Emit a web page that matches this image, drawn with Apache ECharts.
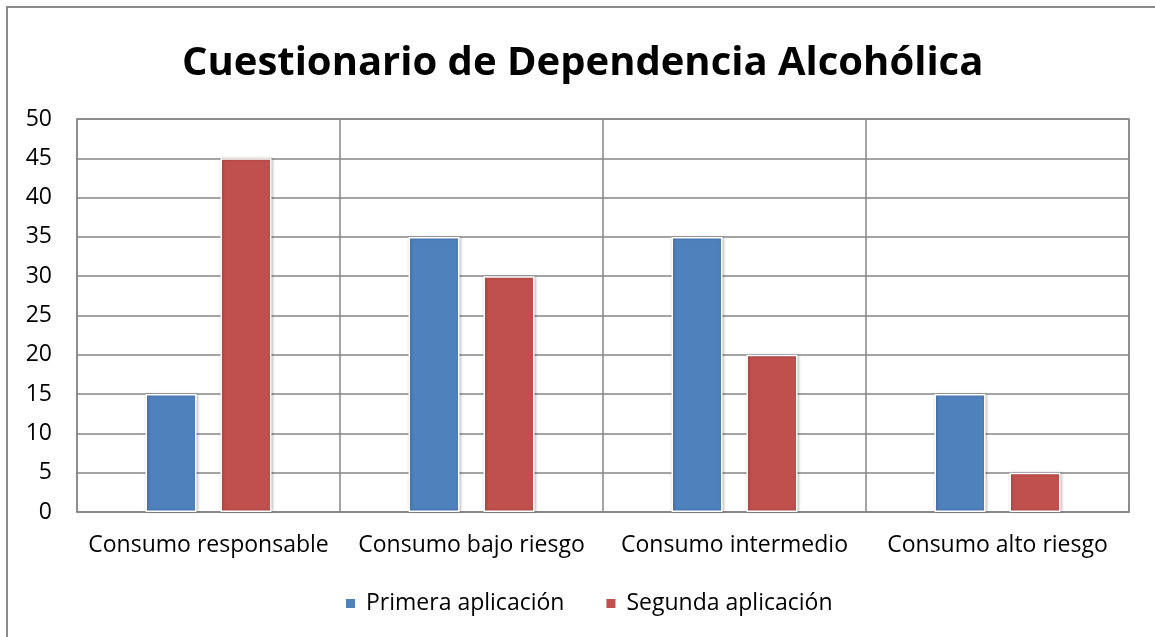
<!DOCTYPE html>
<html>
<head>
<meta charset="utf-8">
<script src="https://cdn.jsdelivr.net/npm/echarts@6/dist/echarts.min.js"></script>
<style>
  html, body { margin: 0; padding: 0; background: #fff; }
  #chart { width: 1155px; height: 637px; }
</style>
</head>
<body>
<div id="chart"></div>
<script>
var categories = ['Consumo responsable', 'Consumo bajo riesgo', 'Consumo intermedio', 'Consumo alto riesgo'];
var primera = [15, 35, 35, 15];
var segunda = [45, 30, 20, 5];
var seriesNames = ['Primera aplicación', 'Segunda aplicación'];

var chart = echarts.init(document.getElementById('chart'));
var fontFam = '"Open Sans", "Noto Sans", sans-serif';

var option = {
    animation: false,
    textStyle: { fontFamily: fontFam },
    title: {
        text: 'Cuestionario de Dependencia Alcohólica',
        left: 177,
        top: 39,
        textStyle: { fontSize: 40, fontWeight: 'bold', color: '#000', fontFamily: fontFam }
    },
    graphic: [{
        type: 'rect',
        shape: { x: 7, y: 7, width: 1160, height: 640 },
        style: { fill: 'none', stroke: '#8a8a8a', lineWidth: 2 },
        silent: true
    }],
    legend: {
        data: seriesNames,
        bottom: 17,
        left: 339,
        itemWidth: 11,
        itemHeight: 11,
        itemGap: 40,
        icon: 'rect',
        textStyle: { fontSize: 23, color: '#000', fontFamily: fontFam, padding: [0, 0, 0, 5] }
    },
    grid: {
        left: 77,
        right: 26,
        top: 119,
        bottom: 125,
        show: true,
        borderColor: '#868686',
        borderWidth: 1.5
    },
    xAxis: {
        type: 'category',
        data: categories,
        axisLine: { lineStyle: { color: '#868686', width: 1.5 } },
        axisTick: { show: false },
        splitLine: { show: true, interval: 0, lineStyle: { color: '#868686', width: 1.5 } },
        axisLabel: { interval: 0, fontSize: 23, color: '#000', margin: 22, fontFamily: fontFam }
    },
    yAxis: {
        type: 'value',
        min: 0,
        max: 50,
        interval: 5,
        axisLine: { show: false },
        axisTick: { show: false },
        splitLine: { lineStyle: { color: '#868686', width: 1.5 } },
        axisLabel: { fontSize: 23, color: '#000', margin: 25, fontFamily: fontFam }
    },
    series: [
        {
            name: seriesNames[0],
            type: 'bar',
            data: primera,
            barWidth: 51,
            barGap: '47%',
            itemStyle: {
                color: '#4F81BD',
                borderColor: '#fff',
                borderWidth: 1.5,
                shadowColor: 'rgba(0,0,0,0.25)',
                shadowBlur: 3,
                shadowOffsetX: 1
            }
        },
        {
            name: seriesNames[1],
            type: 'bar',
            data: segunda,
            barWidth: 51,
            itemStyle: {
                color: '#C0504D',
                borderColor: '#fff',
                borderWidth: 1.5,
                shadowColor: 'rgba(0,0,0,0.25)',
                shadowBlur: 3,
                shadowOffsetX: 1
            }
        }
    ]
};

chart.setOption(option);
</script>
</body>
</html>
